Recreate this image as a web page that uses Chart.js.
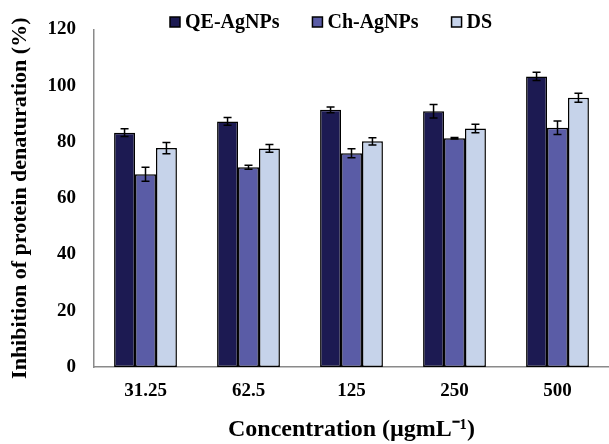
<!DOCTYPE html>
<html>
<head>
<meta charset="utf-8">
<script src="https://cdn.jsdelivr.net/npm/chart.js@4"></script>
<style>
  html, body { margin: 0; padding: 0; background: #fff; overflow: hidden; }
</style>
</head>
<body>
<canvas id="chart" width="609" height="444"></canvas>
<script>
// values
var concentrations = ["31.25", "62.5", "125", "250", "500"];
var qeValues = [83.3, 87.3, 91.4, 90.9, 103.3];
var qeErrors = [1.4, 1.4, 1.0, 2.4, 1.5];
var chValues = [68.5, 71.0, 76.0, 81.3, 85.0];
var chErrors = [2.5, 0.7, 1.6, 0.3, 2.4];
var dsValues = [77.8, 77.7, 80.2, 84.8, 95.7];
var dsErrors = [2.0, 1.4, 1.3, 1.5, 1.6];
var yTicks = [0, 20, 40, 60, 80, 100, 120];

Chart.defaults.font.family = '"Liberation Serif", "Times New Roman", serif';
Chart.defaults.color = '#000';

//legend drawn over the top of the plot, like the original
var topLegend = {
  id: 'topLegend',
  afterDraw: (chart) => {
    var ctx = chart.ctx;
    var x = 170, y = 22;
    ctx.save();
    ctx.font = 'bold 20px "Liberation Serif"';
    ctx.textBaseline = 'middle';
    chart.data.datasets.forEach((ds) => {
      ctx.fillStyle = ds.backgroundColor;
      ctx.fillRect(x, y - 5, 10, 10);
      ctx.lineWidth = 1.5;
      ctx.strokeStyle = '#000';
      ctx.strokeRect(x, y - 5, 10, 10);
      ctx.fillStyle = '#000';
      ctx.fillText(ds.label, x + 15, y + 1);
      x += 15 + ctx.measureText(ds.label).width + 33;
    });
    ctx.restore();
  }
};

//error bars
var errorBars = {
  id: 'errorBars',
  afterDatasetsDraw: (chart) => {
    var ctx = chart.ctx;
    var yScale = chart.scales.y;
    ctx.save();
    ctx.strokeStyle = '#000';
    ctx.lineWidth = 1.5;
    chart.data.datasets.forEach((ds, i) => {
      var meta = chart.getDatasetMeta(i);
      meta.data.forEach((bar, j) => {
        var v = ds.data[j], e = ds.errors[j];
        var top = yScale.getPixelForValue(v + e);
        var bottom = yScale.getPixelForValue(v - e);
        var cx = bar.x;
        ctx.beginPath();
        ctx.moveTo(cx, top); ctx.lineTo(cx, bottom);
        ctx.moveTo(cx - 4, top); ctx.lineTo(cx + 4, top);
        ctx.moveTo(cx - 4, bottom); ctx.lineTo(cx + 4, bottom);
        ctx.stroke();
      });
    });
    ctx.restore();
  }
};

var barStyle = {
  borderColor: '#000',
  borderWidth: 1.5,
  borderSkipped: false,
  inflateAmount: 0,
  categoryPercentage: 0.61,
  barPercentage: 1.0
};

var ctx = document.getElementById("chart").getContext('2d');
var chart = new Chart(ctx, {
  type: 'bar',
  data: {
    labels: concentrations,
    datasets: [
      Object.assign({ label: 'QE-AgNPs', data: qeValues, errors: qeErrors, backgroundColor: '#1c1a52' }, barStyle),
      Object.assign({ label: 'Ch-AgNPs', data: chValues, errors: chErrors, backgroundColor: '#5a5ca6' }, barStyle),
      Object.assign({ label: 'DS', data: dsValues, errors: dsErrors, backgroundColor: '#c6d3ea' }, barStyle)
    ]
  },
  options: {
    responsive: false,
    animation: false,
    layout: { padding: { top: 23, right: 0, left: 0, bottom: 0 } },
    plugins: {
      legend: { display: false },
      tooltip: { enabled: false }
    },
    scales: {
      x: {
        grid: { display: false, drawTicks: false },
        border: { display: true, color: '#8a8a8a', width: 1.5 },
        afterFit: (scale) => { scale.height = 77; },
        ticks: { padding: 13, font: { size: 19, weight: 'bold' }, color: '#000' },
        title: {
          display: true,
          text: 'Concentration (µgmL⁻¹)',
          font: { size: 24, weight: 'bold' },
          color: '#000',
          padding: { top: 12, bottom: 0 }
        }
      },
      y: {
        min: yTicks[0],
        max: yTicks[yTicks.length - 1],
        grid: { display: false, drawTicks: false },
        border: { display: true, color: '#8a8a8a', width: 1.5 },
        afterBuildTicks: (scale) => { scale.ticks = yTicks.map((v) => ({ value: v })); },
        afterFit: (scale) => { scale.width = 94; },
        ticks: { padding: 18, font: { size: 19, weight: 'bold' }, color: '#000' },
        title: {
          display: true,
          text: 'Inhibition of protein denaturation (%)',
          font: { size: 22, weight: 'bold' },
          color: '#000',
          padding: { top: 7, bottom: 14 }
        }
      }
    }
  },
  plugins: [topLegend, errorBars]
});
</script>
</body>
</html>
